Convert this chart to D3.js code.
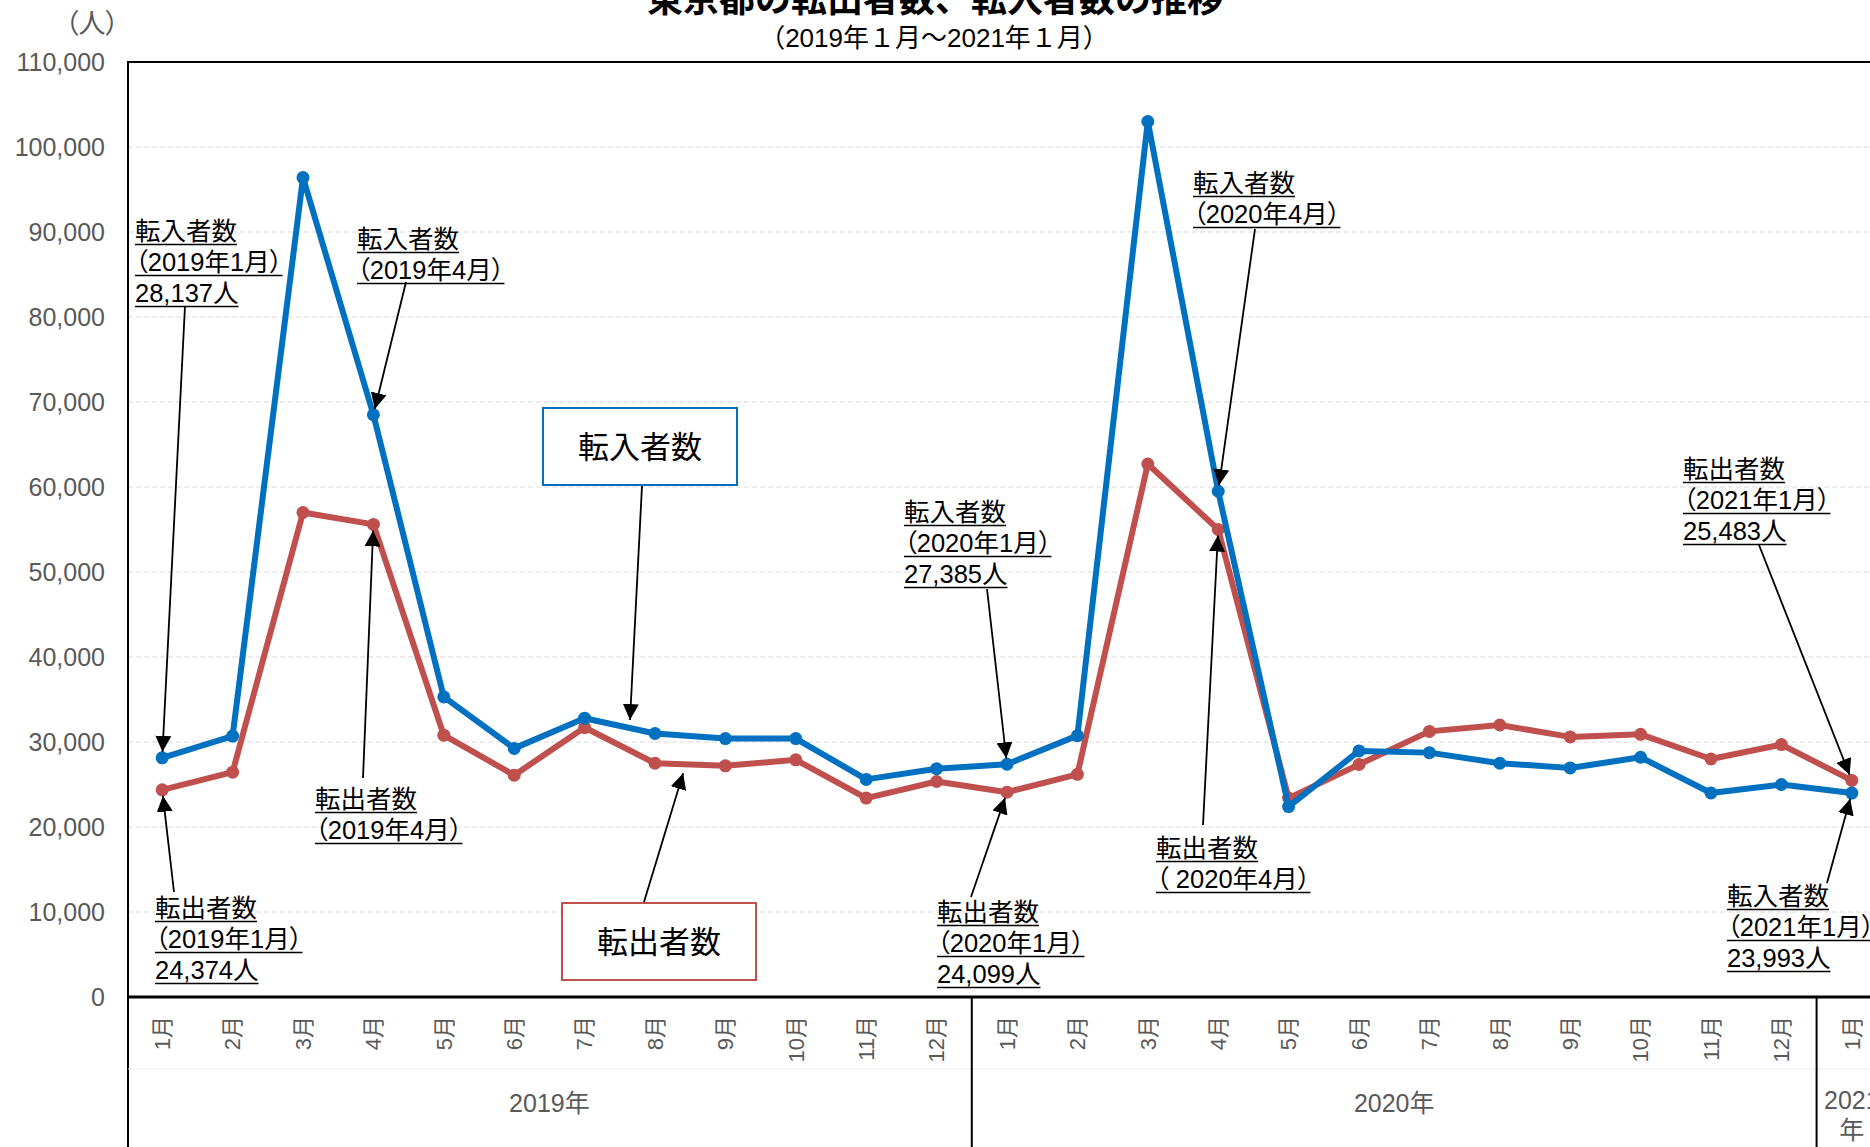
<!DOCTYPE html>
<html>
<head>
<meta charset="utf-8">
<script src="https://cdn.jsdelivr.net/npm/d3@7"></script>
<style>
  body { margin: 0; background: #fff; }
  svg { display: block; font-family: "Liberation Sans", "Noto Sans CJK JP", sans-serif; }
  .palt { font-feature-settings: "palt"; }
</style>
</head>
<body>
<div class="graph"></div>
<script>
// months (2019/1 - 2021/1)
var months = ["1月","2月","3月","4月","5月","6月","7月","8月","9月","10月","11月","12月",
              "1月","2月","3月","4月","5月","6月","7月","8月","9月","10月","11月","12月","1月"];
var years = [
  {label: ["2019年"], from: 0, to: 11},
  {label: ["2020年"], from: 12, to: 23},
  {label: ["2021", "年"], from: 24, to: 24}
];
// 転入者数
var tennyu = [28137, 30700, 96400, 68500, 35300, 29250, 32800, 31000, 30400, 30400, 25600, 26850,
              27385, 30750, 103000, 59500, 22400, 28950, 28750, 27500, 26950, 28200, 24000, 25000, 23993];
// 転出者数
var tenshutsu = [24374, 26450, 57000, 55600, 30800, 26100, 31700, 27500, 27200, 27900, 23400, 25350,
                 24099, 26200, 62700, 55000, 23400, 27350, 31250, 32000, 30600, 30900, 28000, 29700, 25483];
var yTicks = [0, 10000, 20000, 30000, 40000, 50000, 60000, 70000, 80000, 90000, 100000, 110000];

var W = 1870, H = 1147;
var left = 128, top_ = 62, bottom = 997, step = 70.4;

var svg = d3.select(".graph").append("svg")
    .attr("width", W)
    .attr("height", H);

svg.append("rect").attr("width", W).attr("height", H).attr("fill", "#fff");

var x = d3.scaleBand()
    .domain(d3.range(months.length))
    .range([left - 1, left - 1 + step * months.length]);
var y = d3.scaleLinear().domain([0, 110000]).range([bottom, top_]);
function cx(i) { return x(i) + x.bandwidth() / 2; }

var blue = "#0070C0", red = "#C0504D", gray = "#595959";

// title (cut at top)
svg.append("text")
    .attr("x", 935).attr("y", 12)
    .attr("text-anchor", "middle")
    .attr("font-size", 36).attr("font-weight", "bold")
    .text("東京都の転出者数、転入者数の推移");
svg.append("text")
    .attr("x", 934).attr("y", 47)
    .attr("text-anchor", "middle")
    .attr("font-size", 26)
    .text("（2019年１月～2021年１月）");
svg.append("text")
    .attr("class", "palt")
    .attr("x", 92).attr("y", 33)
    .attr("text-anchor", "middle")
    .attr("font-size", 27).attr("fill", gray)
    .text("（人）");

// grid
svg.append("g").selectAll("line")
    .data(yTicks.filter(function(d) { return d > 0 && d < 110000; }))
    .enter().append("line")
    .attr("x1", left).attr("x2", W)
    .attr("y1", function(d) { return y(d); })
    .attr("y2", function(d) { return y(d); })
    .attr("stroke", "#d9d9d9")
    .attr("stroke-dasharray", "5,3");

// y axis labels
svg.append("g").selectAll("text")
    .data(yTicks)
    .enter().append("text")
    .attr("x", 105)
    .attr("y", function(d) { return y(d); })
    .attr("dy", "0.35em")
    .attr("text-anchor", "end")
    .attr("font-size", 25).attr("fill", gray)
    .text(d3.format(","));

// frame
svg.append("line").attr("x1", left).attr("x2", W).attr("y1", top_).attr("y2", top_)
    .attr("stroke", "#000").attr("stroke-width", 2);
svg.append("line").attr("x1", left).attr("x2", left).attr("y1", top_ - 1).attr("y2", H)
    .attr("stroke", "#000").attr("stroke-width", 2);
svg.append("line").attr("x1", left).attr("x2", W).attr("y1", 1069).attr("y2", 1069)
    .attr("stroke", "#ececec");

// year dividers
svg.append("g").selectAll("line")
    .data([12, 24])
    .enter().append("line")
    .attr("x1", function(d) { return x(d); })
    .attr("x2", function(d) { return x(d); })
    .attr("y1", bottom).attr("y2", H)
    .attr("stroke", "#000").attr("stroke-width", 2);

// month labels
svg.append("g").selectAll("text")
    .data(months)
    .enter().append("text")
    .attr("transform", function(d, i) { return "translate(" + cx(i) + ",1016) rotate(-90)"; })
    .attr("dy", "0.35em")
    .attr("text-anchor", "end")
    .attr("font-size", 22).attr("fill", gray)
    .text(function(d) { return d; });

// year labels
years.forEach(function(yr) {
  var mid = (cx(yr.from) + cx(yr.to)) / 2;
  var t = svg.append("text")
      .attr("x", mid).attr("y", yr.label.length > 1 ? 1109 : 1112)
      .attr("text-anchor", "middle")
      .attr("font-size", 25).attr("fill", gray);
  yr.label.forEach(function(s, k) {
    t.append("tspan").attr("x", mid).attr("dy", k ? 30 : 0).text(s);
  });
});

// bottom axis
svg.append("line").attr("x1", left - 1).attr("x2", W).attr("y1", bottom).attr("y2", bottom)
    .attr("stroke", "#000").attr("stroke-width", 3);

// lines
var line = d3.line()
    .x(function(d, i) { return cx(i); })
    .y(function(d) { return y(d); });

[[tenshutsu, red], [tennyu, blue]].forEach(function(s) {
  svg.append("path")
      .datum(s[0])
      .attr("d", line)
      .attr("fill", "none")
      .attr("stroke", s[1])
      .attr("stroke-width", 6)
      .attr("stroke-linejoin", "round");
  svg.append("g").selectAll("circle")
      .data(s[0])
      .enter().append("circle")
      .attr("cx", function(d, i) { return cx(i); })
      .attr("cy", function(d) { return y(d); })
      .attr("r", 6.5)
      .attr("fill", s[1]);
});

// arrowhead
svg.append("defs").append("marker")
    .attr("id", "ah")
    .attr("markerUnits", "userSpaceOnUse")
    .attr("markerWidth", 17).attr("markerHeight", 16)
    .attr("refX", 16).attr("refY", 8)
    .attr("orient", "auto")
  .append("path")
    .attr("d", "M0,0 L16,8 L0,16 Z")
    .attr("fill", "#000");

function arrow(x0, y0, tx, ty, gap) {
  var dx = x0 - tx, dy = y0 - ty, len = Math.sqrt(dx * dx + dy * dy);
  svg.append("line")
      .attr("x1", x0).attr("y1", y0)
      .attr("x2", tx + dx / len * gap).attr("y2", ty + dy / len * gap)
      .attr("stroke", "#000").attr("stroke-width", 1.8)
      .attr("marker-end", "url(#ah)");
}

// annotations
var notes = [
  {s: tennyu, i: 0, x: 135, y: 240, lines: ["転入者数", "（2019年1月）", "28,137人"], ax: 185, ay: 306},
  {s: tennyu, i: 3, x: 357, y: 248, lines: ["転入者数", "（2019年4月）"], ax: 406, ay: 282},
  {s: tenshutsu, i: 3, x: 315, y: 808, lines: ["転出者数", "（2019年4月）"], ax: 363, ay: 778},
  {s: tenshutsu, i: 0, x: 155, y: 917, lines: ["転出者数", "（2019年1月）", "24,374人"], ax: 174, ay: 892},
  {s: tennyu, i: 12, x: 904, y: 521, lines: ["転入者数", "（2020年1月）", "27,385人"], ax: 987, ay: 589},
  {s: tenshutsu, i: 12, x: 937, y: 921, lines: ["転出者数", "（2020年1月）", "24,099人"], ax: 971, ay: 897},
  {s: tennyu, i: 15, x: 1193, y: 192, lines: ["転入者数", "（2020年4月）"], ax: 1255, ay: 229},
  {s: tenshutsu, i: 15, x: 1156, y: 857, lines: ["転出者数", "（ 2020年4月）"], ax: 1203, ay: 825},
  {s: tenshutsu, i: 24, x: 1683, y: 478, lines: ["転出者数", "（2021年1月）", "25,483人"], ax: 1759, ay: 545},
  {s: tennyu, i: 24, x: 1727, y: 905, lines: ["転入者数", "（2021年1月）", "23,993人"], ax: 1827, ay: 883}
];

notes.forEach(function(n) {
  n.lines.forEach(function(s, k) {
    var by = n.y + k * 31;
    var t = svg.append("text")
        .attr("class", "palt")
        .attr("x", n.x).attr("y", by)
        .attr("font-size", 25.5)
        .text(s);
    var w = t.node().getComputedTextLength();
    svg.append("line")
        .attr("x1", n.x).attr("x2", n.x + w)
        .attr("y1", by + 4.5).attr("y2", by + 4.5)
        .attr("stroke", "#000").attr("stroke-width", 1.5);
  });
  arrow(n.ax, n.ay, cx(n.i), y(n.s[n.i]), 6);
});

// legend boxes
var boxes = [
  {label: "転入者数", color: blue, x: 543, y: 408, s: tennyu, i: 6, f: 0.645, off: -8, ax: 642, ay: 486},
  {label: "転出者数", color: red, x: 562, y: 903, s: tenshutsu, i: 7, f: 0.4, off: 9, ax: 644, ay: 902}
];
boxes.forEach(function(b) {
  svg.append("rect")
      .attr("x", b.x).attr("y", b.y)
      .attr("width", 194).attr("height", 77)
      .attr("fill", "#fff")
      .attr("stroke", b.color).attr("stroke-width", 2);
  svg.append("text")
      .attr("x", b.x + 97).attr("y", b.y + 50)
      .attr("text-anchor", "middle")
      .attr("font-size", 31)
      .text(b.label);
  var tx = cx(b.i) + b.f * step;
  var ty = y(b.s[b.i] + b.f * (b.s[b.i + 1] - b.s[b.i])) + b.off;
  arrow(b.ax, b.ay, tx, ty, 0);
});
</script>
</body>
</html>
